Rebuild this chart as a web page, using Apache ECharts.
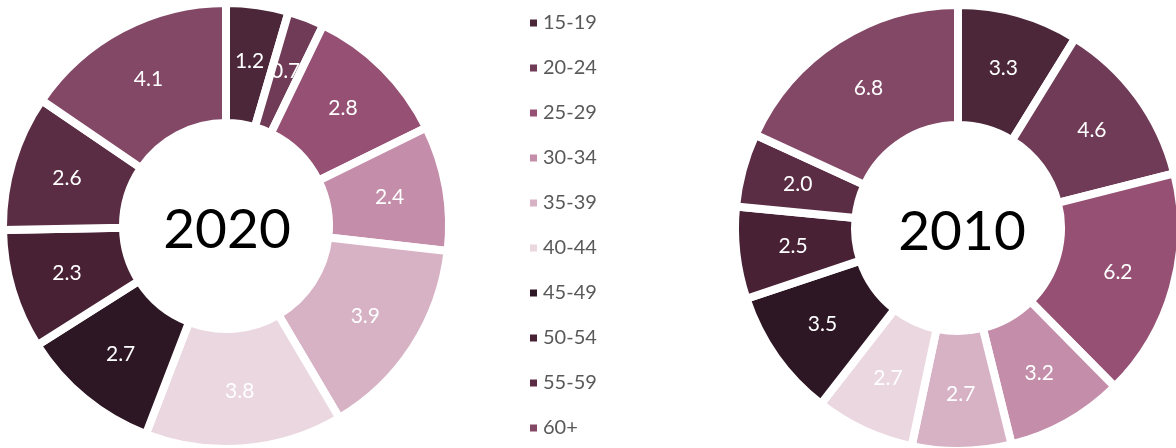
<!DOCTYPE html>
<html>
<head>
<meta charset="utf-8">
<script src="https://cdn.jsdelivr.net/npm/echarts@6/dist/echarts.min.js"></script>
<style>html,body{margin:0;padding:0;background:#fff;}#c{width:1176px;height:448px;}</style>
</head>
<body>
<div id="c"></div>
<script>
const categories = ['15-19','20-24','25-29','30-34','35-39','40-44','45-49','50-54','55-59','60+'];
const values2020 = [1.2, 0.7, 2.8, 2.4, 3.9, 3.8, 2.7, 2.3, 2.6, 4.1];
const values2010 = [3.3, 4.6, 6.2, 3.2, 2.7, 2.7, 3.5, 2.5, 2.0, 6.8];
const colors = ['#4b2739','#6f3b56','#955073','#c48da9','#d7b1c4','#ead7df','#2e1724','#482134','#5b2d44','#844867'];
const yearLabels = ['2020','2010'];

const FONT = 'Lato, "Open Sans", sans-serif';
const chart = echarts.init(document.getElementById('c'));

function pieSeries(name, vals, center) {
  return {
    name: name,
    type: 'pie',
    center: center,
    radius: [103, 223],
    startAngle: 90,
    clockwise: true,
    avoidLabelOverlap: false,
    silent: true,
    itemStyle: { borderColor: '#ffffff', borderWidth: 8 },
    label: {
      show: true,
      position: 'inside',
      color: '#ffffff',
      fontFamily: FONT,
      fontSize: 21,
      formatter: p => p.value.toFixed(1)
    },
    labelLine: { show: false },
    data: categories.map((c, i) => ({ name: c, value: vals[i] }))
  };
}

chart.setOption({
  animation: false,
  color: colors,
  legend: {
    orient: 'vertical',
    left: 523,
    top: 8,
    height: 440,
    icon: 'rect',
    itemWidth: 9,
    itemHeight: 9,
    itemGap: 25,
    selectedMode: false,
    textStyle: { color: '#595959', fontFamily: FONT, fontSize: 20 },
    data: categories
  },
  graphic: [
    { type: 'text', x: 227, y: 230, style: { text: yearLabels[0], fontFamily: FONT, fontSize: 55, fill: '#000', align: 'center', verticalAlign: 'middle' } },
    { type: 'text', x: 962, y: 232, style: { text: yearLabels[1], fontFamily: FONT, fontSize: 55, fill: '#000', align: 'center', verticalAlign: 'middle' } }
  ],
  series: [
    pieSeries(yearLabels[0], values2020, [226, 226]),
    pieSeries(yearLabels[1], values2010, [958, 228])
  ]
});
</script>
</body>
</html>
